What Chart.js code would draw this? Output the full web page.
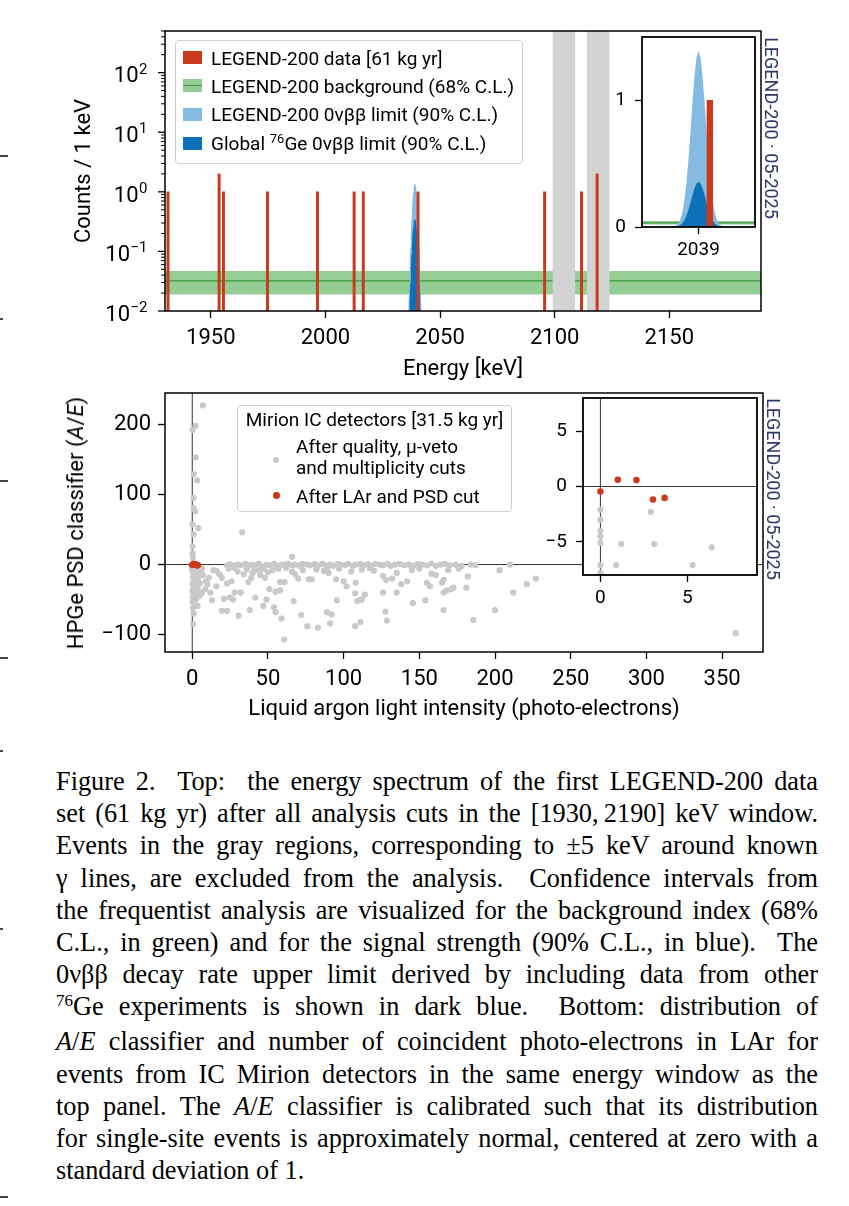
<!DOCTYPE html>
<html>
<head>
<meta charset="utf-8">
<title>LEGEND-200 Figure 2</title>
<script src="https://cdn.jsdelivr.net/npm/chart.js@4.4.1/dist/chart.umd.min.js"></script>
<style>
  body { margin: 0; background: #fff; }
  #page { position: relative; width: 849px; height: 1206px; overflow: hidden; font-family: Roboto, sans-serif; color: #000; }
  .pane { position: absolute; }
  .legend { position: absolute; background: rgba(255,255,255,0.85); border: 1px solid #cfcfcf; border-radius: 4px; }
  .ltxt { position: absolute; font-size: 19px; line-height: 1; white-space: nowrap; transform: translateY(-50%); }
  .ltxt sup { font-size: 13px; vertical-align: 0; position: relative; top: -7px; }
  .sw { position: absolute; }
  .dot { position: absolute; border-radius: 50%; }
  .mark { position: absolute; font-size: 18px; color: #2b3a67; white-space: nowrap; line-height: 1; transform: translate(-50%, -50%) rotate(90deg); }
  .ytitle { position: absolute; font-size: 22px; line-height: 1; white-space: nowrap; transform: translate(-50%, -50%) rotate(-90deg); }
  #caption { position: absolute; left: 56px; top: 766px; width: 762px; font-family: "Liberation Serif", "Times New Roman", serif; font-size: 26.3px; line-height: 32.17px; }
  .capline { width: 762px; white-space: nowrap; }
  .capline .inner { display: inline-block; }
  .capline.just { text-align: justify; text-align-last: justify; }
  .capline.just .inner { display: inline; }
  .capline sup { font-size: 17px; vertical-align: 0; position: relative; top: -9px; }
  .edge { position: absolute; left: 0; background: #444; }
</style>
</head>
<body>
<div id="page">
  <div class="pane" style="left:56px;top:21px;width:716px;height:366px"><canvas id="spectrum"></canvas></div>
  <div class="pane" style="left:600px;top:27px;width:165px;height:238px"><canvas id="spectrumZoom"></canvas></div>
  <div class="pane" style="left:56px;top:383px;width:717px;height:342px"><canvas id="psd"></canvas></div>
  <div class="pane" style="left:540px;top:388px;width:227px;height:227px"><canvas id="psdZoom"></canvas></div>

  <div class="legend" id="topLegend" style="left:175px;top:40px;width:346px;height:122px"></div>
  <div class="legend" id="bottomLegend" style="left:237px;top:405px;width:273px;height:105px"></div>

  <div class="ytitle" style="left:76px;top:523px">HPGe PSD classifier (<i>A</i>/<i>E</i>)</div>
  <div class="mark" style="left:771px;top:128px">LEGEND-200 · 05-2025</div>
  <div class="mark" style="left:773px;top:489px">LEGEND-200 · 05-2025</div>

  <div id="caption"></div>

  <div class="edge" style="top:155px;width:8px;height:1.5px"></div>
  <div class="edge" style="top:318px;width:3px;height:2px"></div>
  <div class="edge" style="top:480px;width:8px;height:1.5px"></div>
  <div class="edge" style="top:657px;width:8px;height:1.5px"></div>
  <div class="edge" style="top:750px;width:3px;height:2px"></div>
  <div class="edge" style="top:928px;width:3px;height:2px"></div>
  <div class="edge" style="top:1196px;width:8px;height:1.5px"></div>
</div>

<script>
// ---------- top panel: energy spectrum ----------
const topXMin = 1930, topXMax = 2190;
const topYMin = 0.01, topYMax = 500;
const topXTicks = [1950, 2000, 2050, 2100, 2150];
const topYMajorTicks = [0.01, 0.1, 1, 10, 100];
const topYTickExponents = ['\u22122', '\u22121', '0', '1', '2'];
const topYMinorTicks = [0.02, 0.03, 0.04, 0.05, 0.06, 0.07, 0.08, 0.09,
  0.2, 0.3, 0.4, 0.5, 0.6, 0.7, 0.8, 0.9, 2, 3, 4, 5, 6, 7, 8, 9,
  20, 30, 40, 50, 60, 70, 80, 90, 200, 300, 400, 500];

// events after all cuts (1 keV bins)
const eventEnergy = [1931.3, 1953.6, 1955.5, 1974.7, 1996.5, 2012.5, 2016.5, 2040.4, 2095.6, 2111.7, 2118.5];
const eventCounts = [1, 2, 1, 1, 1, 1, 1, 1, 1, 1, 2];

// background index band (68% C.L.)
const bkgIndex = 0.032, bkgLow = 0.019, bkgHigh = 0.047;

// excluded gamma-line windows (+-5 keV)
const gammaWindowLow = [2099, 2114];
const gammaWindowHigh = [2109, 2124];

// 0vbb signal limits around Qbb = 2039 keV
const peakEnergy = [2035.5, 2036, 2036.25, 2036.5, 2036.75, 2037, 2037.25, 2037.5, 2037.75, 2038, 2038.25, 2038.5, 2038.75,
  2039, 2039.25, 2039.5, 2039.75, 2040, 2040.25, 2040.5, 2040.75, 2041, 2041.25, 2041.5, 2041.75, 2042, 2042.5];
const legendLimit = [0.0007, 0.0054, 0.013, 0.029, 0.061, 0.118, 0.210, 0.346, 0.530, 0.749, 0.983, 1.191, 1.337,
  1.39, 1.337, 1.191, 0.983, 0.749, 0.530, 0.346, 0.210, 0.118, 0.061, 0.029, 0.013, 0.0054, 0.0007];
const globalLimit = [0.0002, 0.0014, 0.0034, 0.0075, 0.0157, 0.030, 0.054, 0.089, 0.136, 0.192, 0.252, 0.306, 0.343,
  0.357, 0.343, 0.306, 0.252, 0.192, 0.136, 0.089, 0.054, 0.030, 0.0157, 0.0075, 0.0034, 0.0014, 0.0002];

// zoomed inset
const zoomXMin = 2032, zoomXMax = 2046, zoomYMin = 0, zoomYMax = 1.5;
const zoomXTicks = [2039];
const zoomYTicks = [0, 1];

// ---------- bottom panel: A/E vs LAr light ----------
const psdXMin = -18, psdXMax = 377, psdYMin = -124.8, psdYMax = 244.8;
const psdXTicks = [0, 50, 100, 150, 200, 250, 300, 350];
const psdYTicks = [-100, 0, 100, 200];
const psdZoomXMin = -1, psdZoomXMax = 9, psdZoomYMin = -8, psdZoomYMax = 8;
const psdZoomXTicks = [0, 5];
const psdZoomYTicks = [-5, 0, 5];

// after quality, mu-veto and multiplicity cuts [LAr light (p.e.), A/E]
const qualityCutEvents = [
  [7,227],[0.2,192],[2.2,198],[2.2,153],[1,129],[3.3,120],[0.8,95],[0.8,81],[2,76],[4,52],[0.2,57],[0.8,43],[0.2,26],[0.2,16],[0.5,10],
  [0,-2.1],[0,-3],[0,-4],[0,-4.5],[0,-5.1],[0,-7.1],[0,-7.8],[1.2,-5.2],[0.9,-7.1],[2.9,-2.3],[3.1,-5.2],[5.3,-7.1],[6.4,-5.5],
  [0.3,-10],[1.5,-12],[3,-11],[4.5,-9],[6,-13],[2,-16],[0.5,-18],[4,-19],[1.5,-22],[3,-24],[0.2,-27],[5,-27],[2,-30],[0.8,-34],
  [3.5,-35],[0.2,-38],[2,-41],[5,-43],[0.5,-46],[2.5,-49],[0.3,-53],[1.5,-57],[3.5,-59],[0.5,-62],[1,-70],[0.5,-85],[7,-15],
  [6.4,-40],[8.6,-35],[11,-19],[13,-51],[14,-8],[16,-9],[16,-31],[9,-24],[4.5,-45],[10,-28],[12,-40],[18,-14],
  [23,-1],[25,0.5],[27,-2],[30,0],[32,-1],[35,1],[37,-2],[39,0],[42,-1],[44,1],[46,-3],[49,0],[51,-1],[54,1],[56,-2],[59,0],
  [61,-1],[63,1.5],[66,-1],[68,0],[71,-2],[73,1],[76,0],[78,-1],[81,0.5],[83,-2],[86,1],[88,-1],[91,0],[93,-2],[96,1],[98,0],
  [101,-1],[103,1],[106,-2],[108,0],[111,1],[113,-1],[116,0.5],[118,-2],[121,1],[124,0],[126,-1],[129,1],[131,-2],[134,0],
  [137,1],[140,-1],[143,0],[146,-2],[149,1],[152,0],[155,-1],[158,1.5],[161,-2],[164,0],[167,1],[170,-1],[174,0],[178,-2],
  [184,0],[187,-1],[203,-8],[210,0],
  [24,-6],[28,-5],[36,-7],[41,-5],[44,-9],[47,-6],[50,-11],[53,-8],[57,-6],[62,-5],[66,-10],[68,-14],[70,-20],[73,-8],[77,-21],
  [79,-21],[82,-7],[87,-9],[89,-5],[90,-12],[95,-21],[97,-6],[100,-24],[102,-31],[105,-10],[108,-26],[112,-7],[117,-5],[120,-9],
  [126,-16],[128,-22],[132,-20],[135,-12],[138,-28],[142,-24],[145,-8],[150,-6],[155,-26],[157,-31],[158,-13],[161,-15],
  [165,-26],[166,-22],[169,-8],[176,-6],[181,-33],[182,-17],
  [34,-14],[40,-12],[45,-15],[48,-19],[39,-19],[19.6,-19],[26,-24],[23,-27],[37,-25],[28,-40],[32,-40],[51,-35],[55,-39],
  [58,-37],[58,-25],[61,-25],[30,-10],
  [33,46],[66,11],[114,-43],[111,-50],[109,-52],[21,-49],[25,-47],[27,-50],[41.6,-47],[49,-50],[67,-52],[95.5,-51],[19.6,-66],
  [23,-66],[30.6,-73],[38,-65],[47,-59],[54,-61],[55,-68],[59,-77],[60.7,-107],[72,-72],[76,-88],[83,-90],[89,-68],[92,-71],
  [91,-84],[107.6,-88],[111,-82],[107.6,-41],[112,-50],[126,-40],[135,-40],[127.6,-67],[128.5,-80],[145.7,-55],[154,-51],
  [166,-65],[166,-40],[168,-37],[171,-35],[172.5,-33],[185.7,-79],[200,-65],[212,-40],[221,-28],[227,-20],[359,-98]
];
// after LAr and PSD cut
const larPsdEvents = [[0,-0.45],[1,0.61],[2.07,0.58],[3.02,-1.18],[3.69,-1.03]];

// ---------- styles ----------
const red = '#c93a1c';
const lightBlue = '#85bbe3';
const darkBlue = '#0d71b9';
const bandGreen = 'rgba(60,165,60,0.55)';
const lineGreen = '#3e963e';
const excludedGray = '#d3d3d3';
const pointGray = '#c9c9c9';

Chart.defaults.font.family = 'Roboto';
Chart.defaults.color = '#000';
Chart.defaults.animation = false;
Chart.defaults.events = [];
Chart.defaults.plugins.legend.display = false;
Chart.defaults.plugins.tooltip.enabled = false;

const pts = (xs, ys) => xs.map((x, i) => ({ x: x, y: ys[i] }));
const pairs = arr => arr.map(p => ({ x: p[0], y: p[1] }));
const minusSign = v => String(v).replace('-', '\u2212');

// fixed axis box, no automatic label padding
function fixSize(s, size) {
  if (s.isHorizontal()) s.height = size; else s.width = size;
  s.paddingTop = 0; s.paddingBottom = 0; s.paddingLeft = 0; s.paddingRight = 0;
}

function axis(min, max, ticks, size, pad, fontSize) {
  return {
    type: 'linear', min: min, max: max, offset: false,
    afterBuildTicks: s => { s.ticks = ticks.map(v => ({ value: v })); },
    afterFit: s => fixSize(s, size),
    grid: { display: true, offset: false, drawOnChartArea: false, drawTicks: true, tickLength: 7, tickWidth: 1.3, tickColor: '#000', color: '#000' },
    border: { display: false },
    ticks: { font: { size: fontSize }, padding: pad, maxRotation: 0, autoSkip: false, callback: minusSign }
  };
}

const framePlugin = {
  id: 'frame',
  beforeDraw(chart, args, o) {
    if (!o.fill) return;
    const a = chart.chartArea, ctx = chart.ctx;
    ctx.save(); ctx.fillStyle = o.fill; ctx.fillRect(a.left, a.top, a.width, a.height); ctx.restore();
  },
  afterDraw(chart, args, o) {
    const a = chart.chartArea, ctx = chart.ctx;
    ctx.save(); ctx.strokeStyle = '#000'; ctx.lineWidth = o.width || 1.5;
    ctx.strokeRect(a.left, a.top, a.width, a.height); ctx.restore();
  }
};

// log axis with 10^n labels and minor ticks
const logAxisPlugin = {
  id: 'logAxis',
  afterDraw(chart) {
    const s = chart.scales.y, ctx = chart.ctx, x0 = chart.chartArea.left;
    ctx.save();
    ctx.strokeStyle = '#000';
    ctx.lineWidth = 1;
    topYMinorTicks.forEach(v => {
      const y = s.getPixelForValue(v);
      ctx.beginPath(); ctx.moveTo(x0 - 4, y); ctx.lineTo(x0, y); ctx.stroke();
    });
    ctx.lineWidth = 1.3;
    ctx.fillStyle = '#000';
    ctx.textAlign = 'right';
    ctx.textBaseline = 'alphabetic';
    topYMajorTicks.forEach((v, i) => {
      const y = s.getPixelForValue(v);
      ctx.beginPath(); ctx.moveTo(x0 - 7, y); ctx.lineTo(x0, y); ctx.stroke();
      const right = x0 - 17.5;
      ctx.font = '15px Roboto';
      const we = ctx.measureText(topYTickExponents[i]).width;
      ctx.fillText(topYTickExponents[i], right, y + 1);
      ctx.font = '22px Roboto';
      ctx.fillText('10', right - we - 0.5, y + 9.7);
    });
    ctx.restore();
  }
};

function spectrumDatasets(barWidth, withWindows) {
  const ds = [
    { type: 'bar', data: pts(eventEnergy, eventCounts), backgroundColor: red, barThickness: barWidth, base: 0, order: 0 },
    { data: pts(peakEnergy, globalLimit), backgroundColor: darkBlue, borderColor: 'rgba(0,0,0,0)', borderWidth: 0, pointRadius: 0, fill: 'start', order: 1 },
    { data: pts(peakEnergy, legendLimit), backgroundColor: lightBlue, borderColor: 'rgba(0,0,0,0)', borderWidth: 0, pointRadius: 0, fill: 'start', order: 2 },
    { data: [{ x: topXMin, y: bkgIndex }, { x: topXMax, y: bkgIndex }], borderColor: lineGreen, borderWidth: 1.3, pointRadius: 0, fill: false, order: 4 },
    { data: [{ x: topXMin, y: bkgHigh }, { x: topXMax, y: bkgHigh }], backgroundColor: bandGreen, borderColor: 'rgba(0,0,0,0)', borderWidth: 0, pointRadius: 0, fill: { value: bkgLow }, order: 5 }
  ];
  if (withWindows) {
    gammaWindowLow.forEach((lo, i) => {
      ds.push({ data: [{ x: lo, y: topYMax }, { x: gammaWindowHigh[i], y: topYMax }], backgroundColor: excludedGray,
        borderColor: 'rgba(0,0,0,0)', borderWidth: 0, pointRadius: 0, fill: 'start', order: 3 });
    });
  }
  return ds;
}

// top main
const topX = axis(topXMin, topXMax, topXTicks, 76, 7, 22);
topX.ticks.callback = v => String(v);
topX.title = { display: true, text: 'Energy [keV]', font: { size: 22 }, padding: { top: 0, bottom: 4 } };
new Chart(document.getElementById('spectrum'), {
  type: 'line',
  data: { datasets: spectrumDatasets(2.3, true) },
  options: {
    responsive: true, maintainAspectRatio: false,
    layout: { padding: { top: 10, right: 11, left: 0, bottom: 0 } },
    scales: {
      x: topX,
      y: {
        type: 'logarithmic', min: topYMin, max: topYMax,
        afterFit: s => fixSize(s, 109),
        grid: { display: false }, border: { display: false }, ticks: { display: false },
        title: { display: true, text: 'Counts / 1 keV', font: { size: 22 }, padding: { top: 15, bottom: 0 } }
      }
    },
    plugins: { frame: { width: 1.5 } }
  },
  plugins: [framePlugin, logAxisPlugin]
});

// top inset
const zX = axis(zoomXMin, zoomXMax, zoomXTicks, 38, 5, 19);
zX.ticks.callback = v => String(v);
new Chart(document.getElementById('spectrumZoom'), {
  type: 'line',
  data: { datasets: spectrumDatasets(5.7, false) },
  options: {
    responsive: true, maintainAspectRatio: false,
    layout: { padding: { top: 10, right: 10, left: 0, bottom: 0 } },
    scales: { x: zX, y: axis(zoomYMin, zoomYMax, zoomYTicks, 42, 9, 19) },
    plugins: { frame: { width: 1.8, fill: '#fff' } }
  },
  plugins: [framePlugin]
});

function psdDatasets(r, clip) {
  return [
    { data: pairs(larPsdEvents), pointRadius: r + 0.2, pointBackgroundColor: red, pointBorderWidth: 0, showLine: false, clip: clip, order: 0 },
    { data: pairs(qualityCutEvents), pointRadius: r, pointBackgroundColor: pointGray, pointBorderWidth: 0, showLine: false, clip: clip, order: 1 },
    { data: [{ x: -1000, y: 0 }, { x: 1000, y: 0 }], showLine: true, borderColor: '#333', borderWidth: 1, pointRadius: 0, clip: 0, order: 2 },
    { data: [{ x: 0, y: -1000 }, { x: 0, y: 1000 }], showLine: true, borderColor: '#333', borderWidth: 1, pointRadius: 0, clip: 0, order: 2 }
  ];
}

// bottom main
const pX = axis(psdXMin, psdXMax, psdXTicks, 73, 7, 22);
pX.title = { display: true, text: 'Liquid argon light intensity (photo-electrons)', font: { size: 22 }, padding: { top: 0, bottom: 2 } };
new Chart(document.getElementById('psd'), {
  type: 'scatter',
  data: { datasets: psdDatasets(3.1, 0) },
  options: {
    responsive: true, maintainAspectRatio: false,
    layout: { padding: { top: 10, right: 10, left: 0, bottom: 0 } },
    scales: { x: pX, y: axis(psdYMin, psdYMax, psdYTicks, 109, 7, 22) },
    plugins: { frame: { width: 1.5 } }
  },
  plugins: [framePlugin]
});

// bottom inset
new Chart(document.getElementById('psdZoom'), {
  type: 'scatter',
  data: { datasets: psdDatasets(3.1, 0) },
  options: {
    responsive: true, maintainAspectRatio: false,
    layout: { padding: { top: 10, right: 10, left: 0, bottom: 0 } },
    scales: {
      x: axis(psdZoomXMin, psdZoomXMax, psdZoomXTicks, 40, 5, 19),
      y: axis(psdZoomYMin, psdZoomYMax, psdZoomYTicks, 43, 9, 19)
    },
    plugins: { frame: { width: 1.8, fill: '#fff' } }
  },
  plugins: [framePlugin]
});

// ---------- legends ----------
const topLegendLabels = [
  'LEGEND-200 data [61 kg yr]',
  'LEGEND-200 background (68% C.L.)',
  'LEGEND-200 0\u03bd\u03b2\u03b2 limit (90% C.L.)',
  'Global <sup>76</sup>Ge 0\u03bd\u03b2\u03b2 limit (90% C.L.)'
];
const topLegendColors = [red, bandGreen, lightBlue, darkBlue];
const topLegendRows = [16.5, 44.5, 73, 102];

const topLeg = document.getElementById('topLegend');
topLegendLabels.forEach((label, i) => {
  const cy = topLegendRows[i];
  const sw = document.createElement('div');
  sw.className = 'sw';
  sw.style.cssText = `left:7px;top:${cy - 6.5}px;width:19px;height:13px;background:${topLegendColors[i]}`;
  if (i === 1) {
    const ln = document.createElement('div');
    ln.style.cssText = `position:absolute;left:0;top:5.8px;width:19px;height:1.4px;background:${lineGreen}`;
    sw.appendChild(ln);
  }
  topLeg.appendChild(sw);
  const t = document.createElement('div');
  t.className = 'ltxt';
  t.style.left = '35px';
  t.style.top = cy + 'px';
  t.innerHTML = label;
  topLeg.appendChild(t);
});

const bottomLegendTitle = 'Mirion IC detectors [31.5 kg yr]';
const bottomLegendLabels = ['After quality, \u03bc-veto<br>and multiplicity cuts', 'After LAr and PSD cut'];
const bottomLegendColors = [pointGray, red];
const botLeg = document.getElementById('bottomLegend');
botLeg.innerHTML =
  `<div class="ltxt" style="left:0;width:273px;text-align:center;top:12.5px">${bottomLegendTitle}</div>` +
  `<div class="dot" style="left:35px;top:51px;width:6px;height:6px;background:${bottomLegendColors[0]}"></div>` +
  `<div class="ltxt" style="left:58px;top:51px;line-height:21px">${bottomLegendLabels[0]}</div>` +
  `<div class="dot" style="left:35px;top:86px;width:6.5px;height:6.5px;background:${bottomLegendColors[1]}"></div>` +
  `<div class="ltxt" style="left:58px;top:89.5px">${bottomLegendLabels[1]}</div>`;

// ---------- caption ----------
const captionLines = [
  'Figure 2.&nbsp; Top:&nbsp; the energy spectrum of the first LEGEND-200 data',
  'set (61 kg yr) after all analysis cuts in the [1930,&#8201;2190] keV window.',
  'Events in the gray regions, corresponding to \u00b15 keV around known',
  '\u03b3 lines, are excluded from the analysis.&nbsp; Confidence intervals from',
  'the frequentist analysis are visualized for the background index (68%',
  'C.L., in green) and for the signal strength (90% C.L., in blue).&nbsp; The',
  '0\u03bd\u03b2\u03b2 decay rate upper limit derived by including data from other',
  '<sup>76</sup>Ge experiments is shown in dark blue.&nbsp; Bottom: distribution of',
  '<i>A</i>/<i>E</i> classifier and number of coincident photo-electrons in LAr for',
  'events from IC Mirion detectors in the same energy window as the',
  'top panel. The <i>A</i>/<i>E</i> classifier is calibrated such that its distribution',
  'for single-site events is approximately normal, centered at zero with a',
  'standard deviation of 1.'
];
const cap = document.getElementById('caption');
captionLines.forEach((html, i) => {
  const line = document.createElement('div');
  line.className = 'capline';
  const inner = document.createElement('span');
  inner.className = 'inner';
  inner.innerHTML = html;
  line.appendChild(inner);
  cap.appendChild(line);
  const w = inner.getBoundingClientRect().width;
  if (w > 762) {
    inner.style.transformOrigin = '0 0';
    inner.style.transform = `scaleX(${762 / w})`;
  } else if (i < captionLines.length - 1) {
    line.classList.add('just');
  }
});
</script>
</body>
</html>
